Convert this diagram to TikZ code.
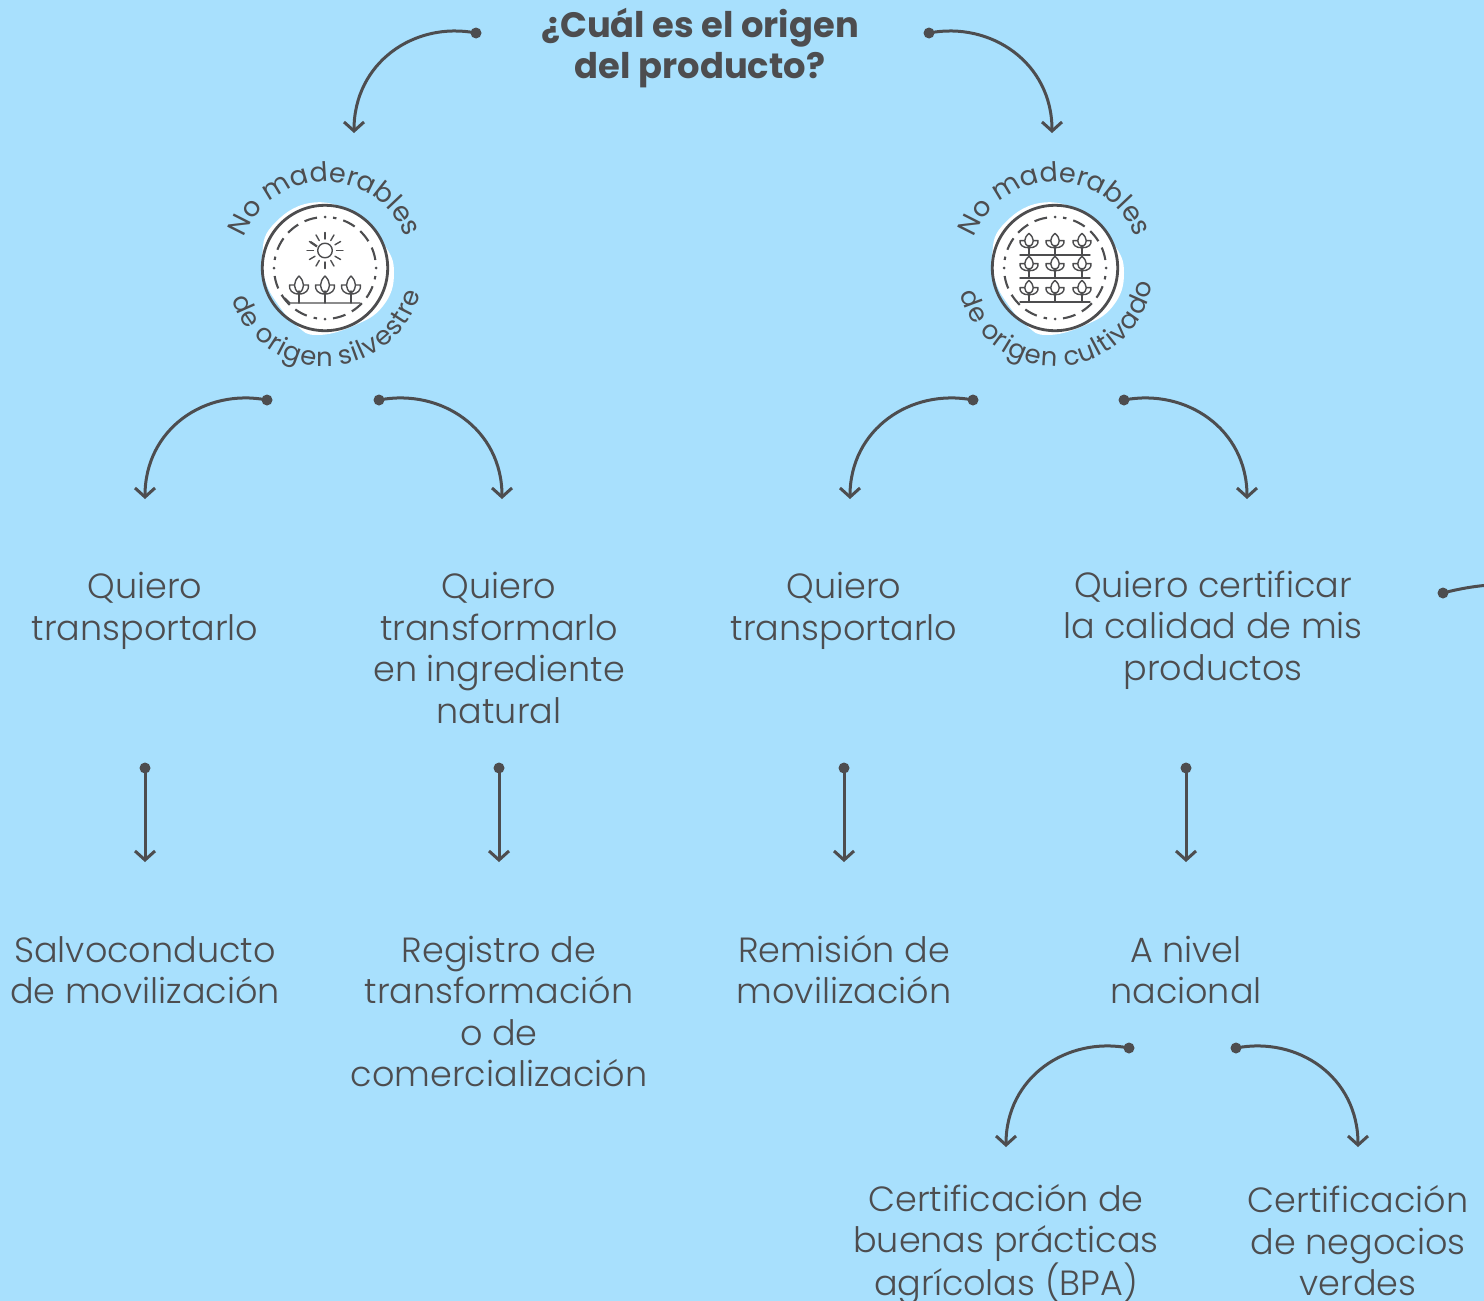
\documentclass[tikz,border=0pt]{standalone}
\usepackage{fontspec}
\setmainfont{Poppins}[UprightFont=* Light,BoldFont=* Bold]
\newfontfamily\curvef{Poppins}
\usetikzlibrary{arrows.meta,decorations.text,calc}
\definecolor{skybg}{HTML}{A8E0FD}
\definecolor{ink}{HTML}{4D4D4F}
\newcommand{\curvefont}{\curvef\fontsize{27}{27}\selectfont}
\newcommand{\curvefontb}{\curvef\fontsize{26}{26}\selectfont}
\newcommand{\ks}{\kern1.0pt}
\tikzset{
  x=1pt,y=1pt,
  conn/.style={draw=ink,line width=3pt,-{Straight Barb[length=9pt,width=20pt,line width=3pt]}},
  plainconn/.style={draw=ink,line width=3pt},
  dotn/.style={circle,fill=ink,inner sep=0pt,minimum size=11pt},
  lbl/.style={anchor=base,align=center,text=ink,inner sep=0pt,font=\fontsize{35}{41.5}\selectfont},
  ttl/.style={anchor=base,align=center,text=ink,inner sep=0pt,font=\fontsize{35.3}{40.5}\selectfont\bfseries},
  iconline/.style={draw=ink,line width=1.4pt,line cap=round,line join=round},
  plantpic/.pic={
    \draw[iconline] (0,0)--(0,-12);
    \draw[iconline] (0,-10) .. controls (-6,-14) and (-6,-21) .. (0,-27) .. controls (6,-21) and (6,-14) .. (0,-10);
    \draw[iconline] (0,-9) .. controls (-7,-9) and (-10,-13) .. (-9.5,-18) -- (-5,-18);
    \draw[iconline] (0,-9) .. controls (7,-9) and (10,-13) .. (9.5,-18) -- (5,-18);
  }
}
\newcommand{\badgeback}[1]{%
  \begin{scope}[shift={(#1)},y=-1pt]
    \fill[white] plot[smooth cycle,tension=.75] coordinates {(-63,-12)(-53,-42)(-15,-65)(28,-55)(58,-25)(69,5)(58,38)(28,58)(-8,67)(-28,58)(-48,35)(-60,12)};
    \draw[ink,line width=2.8pt] (0,0) circle[radius=62.7];
    \foreach \a in {0,90,180,270}{
      \draw[ink,line width=2.1pt,dash pattern=on 13pt off 7.2pt] (\a+9:51pt) arc[start angle=\a+9,end angle=\a+81,radius=51pt];
      \fill[ink] (\a:51pt) circle[radius=1.5];
    }
  \end{scope}}
\begin{document}
\begin{tikzpicture}
\useasboundingbox (0,0) rectangle (1484,-1301);
\clip (0,0) rectangle (1484,-1301);
\fill[skybg] (0,0) rectangle (1484,-1301);

% title
\node[ttl] (title) at (700,-78) {¿Cuál es el origen\\del producto?};

% badges
\coordinate (bl) at (325,-268);
\coordinate (br) at (1055,-268);
\badgeback{bl}
\badgeback{br}

% left icon
\begin{scope}[shift={(bl)},y=-1pt]
  \draw[iconline] (0,-17.5) circle[radius=7.3];
  \foreach \a in {0,30,...,330}{\draw[iconline] (\a:11.5pt)++(0,-17.5) -- ++(\a:6.5pt);}
  \draw[ink,line width=2.2pt] (-14.5,-26) -- (-8,-21.5);
  \draw[iconline] (-40,30) -- (-35,35) -- (35,35);
  \foreach \x in {-26,0,26}{\pic at (\x,35) {plantpic};}
\end{scope}

% right icon
\begin{scope}[shift={(br)},y=-1pt]
  \foreach \yy in {-13,10,34}{
    \draw[iconline] (-35,\yy) -- (35,\yy);
    \foreach \x in {-26,0,27}{\pic[xscale=.95,yscale=.8] at (\x,\yy) {plantpic};}
  }
\end{scope}

% curved texts
\path[postaction={decorate,decoration={text along path,text align=center,text={|\curvefont\color{ink}|No maderables}}}]
  ($(bl)+(170:86pt)$) arc[start angle=170,end angle=10,radius=86pt];
\path[postaction={decorate,decoration={text along path,text align=center,text={|\curvefont\color{ink}|No maderables}}}]
  ($(br)+(170:86pt)$) arc[start angle=170,end angle=10,radius=86pt];
\path[postaction={decorate,decoration={text along path,text align=center,text={|\curvefontb\color{ink}|{d\ks}{e\ks} {o\ks}{r\ks}{i\ks}{g\ks}{e\ks}{n\ks} {s\ks}{i\ks}{l\ks}{v\ks}{e\ks}{s\ks}{t\ks}{r\ks}{e}}}}]
  ($(bl)+(162:98.5pt)$) arc[start angle=162,end angle=382,radius=98.5pt];
\path[postaction={decorate,decoration={text along path,text align=center,text={|\curvefontb\color{ink}|{d\ks}{e\ks} {o\ks}{r\ks}{i\ks}{g\ks}{e\ks}{n\ks} {c\ks}{u\ks}{l\ks}{t\ks}{i\ks}{v\ks}{a\ks}{d\ks}{o}}}}]
  ($(br)+(163:98.5pt)$) arc[start angle=163,end angle=383,radius=98.5pt];

% labels
\node[lbl] (q1) at (145,-640) {Quiero\\transportarlo};
\node[lbl] (q2) at (499,-723) {Quiero\\transformarlo\\en ingrediente\\natural};
\node[lbl] (q3) at (844,-640) {Quiero\\transportarlo};
\node[lbl] (q4) at (1213,-680) {Quiero certificar\\la calidad de mis\\productos};
\node[lbl] (r1) at (145,-1003.5) {Salvoconducto\\de movilización};
\node[lbl] (r2) at (499,-1086.5) {Registro de\\transformación\\o de\\comercialización};
\node[lbl] (r3) at (844,-1003.5) {Remisión de\\movilización};
\node[lbl] (r4) at (1186,-1003.5) {A nivel\\nacional};
\node[lbl] (c1) at (1006,-1295.5) {Certificación de\\buenas prácticas\\agrícolas (BPA)};
\node[lbl] (c2) at (1358,-1295.5) {Certificación\\de negocios\\verdes};

% dots and free ends
\foreach \n/\x/\y in {a1/476/33,a2/929/33,a3/267/400,a4/379/400,a5/973/400,a6/1124/400,a7/1129/1048,a8/1236/1048,a9/1443/593,s1/145/768,s2/499/768,s3/844/768,s4/1186/768}
  {\node[dotn] (\n) at (\x,-\y) {};}
\foreach \n/\x/\y in {e1/354/133,e2/1052/133,e3/145/499,e4/502/499,e5/850/499,e6/1247/499,e7/1006/1147,e8/1358/1147,e9/1490/585,f1/145/862,f2/499/862,f3/844/862,f4/1186/862}
  {\coordinate (\n) at (\x,-\y);}

% connectors
\draw[conn] (a1.center) .. controls +(-62,12) and +(0,70) .. (e1);
\draw[conn] (a2.center) .. controls +(62,12) and +(0,70) .. (e2);
\draw[conn] (a3.center) .. controls +(-62,12) and +(0,70) .. (e3);
\draw[conn] (a4.center) .. controls +(62,12) and +(0,70) .. (e4);
\draw[conn] (a5.center) .. controls +(-62,12) and +(0,70) .. (e5);
\draw[conn] (a6.center) .. controls +(62,12) and +(0,70) .. (e6);
\draw[conn] (a7.center) .. controls +(-62,12) and +(0,70) .. (e7);
\draw[conn] (a8.center) .. controls +(62,12) and +(0,70) .. (e8);
\draw[plainconn] (a9.center) .. controls +(15,4) and +(-15,-1) .. (e9);
\draw[conn] (s1.center) -- (f1);
\draw[conn] (s2.center) -- (f2);
\draw[conn] (s3.center) -- (f3);
\draw[conn] (s4.center) -- (f4);
\end{tikzpicture}
\end{document}
